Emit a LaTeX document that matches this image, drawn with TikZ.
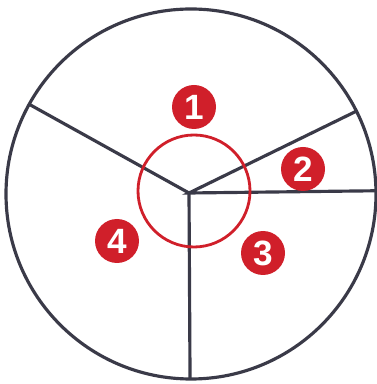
\documentclass[tikz,border=0pt]{standalone}
\usepackage{fontspec}
\setmainfont{Liberation Sans}
\usetikzlibrary{calc}
\definecolor{rim}{HTML}{3A3A48}
\definecolor{markred}{HTML}{D01F2A}
\tikzset{
	spoke/.style={rim, line width=1.8pt},
	badge/.style={circle, fill=markred, text=white, minimum size=0.88cm, inner sep=0pt,
		font=\fontsize{20}{20}\selectfont\bfseries}
}
\begin{document}
\begin{tikzpicture}[x=0.02cm, y=0.02cm]
		\useasboundingbox (0,0) rectangle (377,384);
		\coordinate (O) at (191,190);
		\coordinate (J) at (189,191);
		\coordinate (eL) at ($(O)+(151:185)$);
		\coordinate (eR) at ($(O)+(26.6:185)$);
		\coordinate (eH) at ($(O)+(1:185)$);
		\coordinate (eD) at ($(O)+(-90.3:185)$);
		\draw[spoke] (O) circle (185);
		\draw[spoke] (eL) -- (J) -- (eD);
		\draw[spoke] (eR) -- (J) -- (eH);
		\draw[markred, line width=1.6pt] (194,193) circle (56);
		\node[badge] (b1) at (194,277) {1};
		\node[badge] (b2) at (303,215) {2};
		\node[badge] (b3) at (263,131) {3};
		\node[badge] (b4) at (117,143) {4};
	\end{tikzpicture}
\end{document}
